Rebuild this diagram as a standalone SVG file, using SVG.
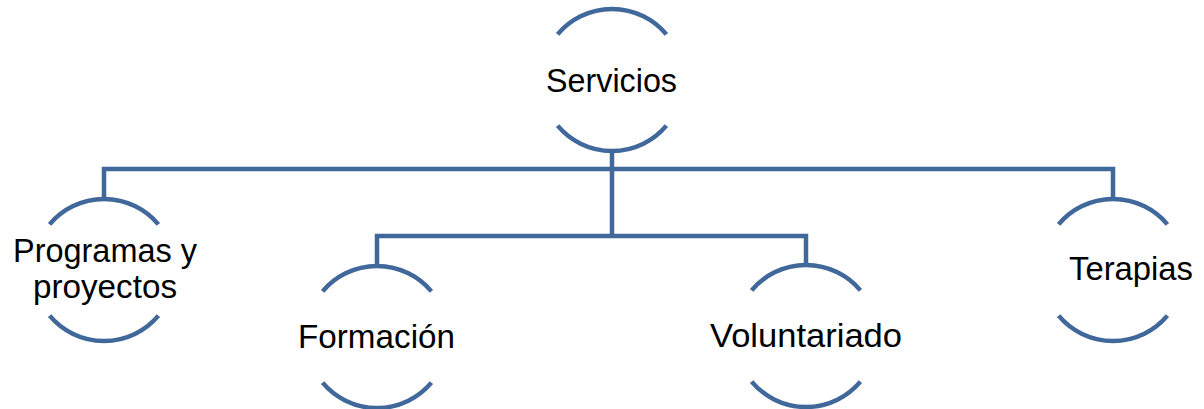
<svg xmlns="http://www.w3.org/2000/svg" width="1204" height="409" viewBox="0 0 1204 409">
<style>
.arc{fill:none;stroke:#41689B;stroke-width:4.5}
.conn{fill:none;stroke:#41689B;stroke-width:4.5;stroke-linejoin:miter}
.lbl{font-family:"Liberation Sans",Arial,sans-serif;font-size:33px;fill:#000;text-anchor:middle}
</style>
<rect width="1204" height="409" fill="#fff"/>
<g id="connectors">
<path class="conn" d="M104,200 V169 H1113 V200"/>
<path class="conn" d="M612,150 V236"/>
<path class="conn" d="M377,266 V236 H806 V266"/>
</g>
<g id="servicios">
<path class="arc" d="M557.6,34.4 A71,71 0 0 1 666.4,34.4"/>
<path class="arc" d="M557.6,125.6 A71,71 0 0 0 666.4,125.6"/>
<text class="lbl" x="611.5" y="92" textLength="131" lengthAdjust="spacingAndGlyphs">Servicios</text>
</g>
<g id="programas">
<path class="arc" d="M49.6,224.4 A71,71 0 0 1 158.4,224.4"/>
<path class="arc" d="M49.6,315.6 A71,71 0 0 0 158.4,315.6"/>
<text class="lbl" x="105" y="262" textLength="184" lengthAdjust="spacingAndGlyphs">Programas y</text>
<text class="lbl" x="105" y="298" textLength="144" lengthAdjust="spacingAndGlyphs">proyectos</text>
</g>
<g id="formacion">
<path class="arc" d="M322.6,291.4 A71,71 0 0 1 431.4,291.4"/>
<path class="arc" d="M322.6,382.6 A71,71 0 0 0 431.4,382.6"/>
<text class="lbl" x="376.5" y="348" textLength="157" lengthAdjust="spacingAndGlyphs">Formación</text>
</g>
<g id="voluntariado">
<path class="arc" d="M751.6,290.4 A71,71 0 0 1 860.4,290.4"/>
<path class="arc" d="M751.6,381.6 A71,71 0 0 0 860.4,381.6"/>
<text class="lbl" x="806" y="347" textLength="192" lengthAdjust="spacingAndGlyphs">Voluntariado</text>
</g>
<g id="terapias">
<path class="arc" d="M1058.6,224.4 A71,71 0 0 1 1167.4,224.4"/>
<path class="arc" d="M1058.6,315.6 A71,71 0 0 0 1167.4,315.6"/>
<text class="lbl" x="1131" y="280" textLength="124" lengthAdjust="spacingAndGlyphs">Terapias</text>
</g>
</svg>
